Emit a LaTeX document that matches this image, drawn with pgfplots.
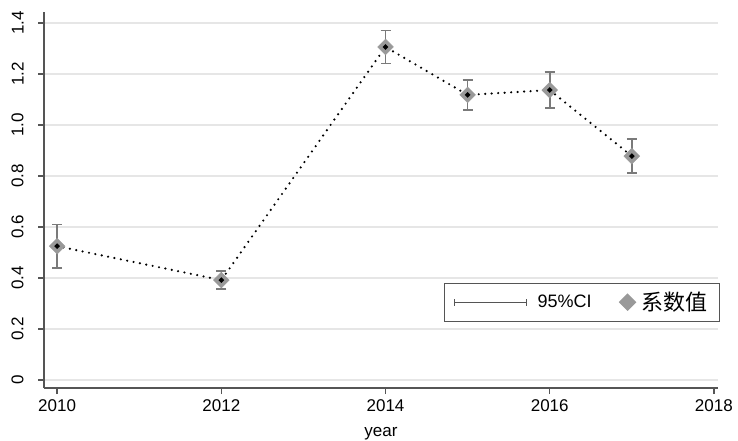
\documentclass[border=0pt]{standalone}
\usepackage{pgfplots}
\pgfplotsset{compat=1.18}
\usepackage{fontspec}
\setmainfont{Liberation Sans}
\newfontfamily\cjk{Noto Sans CJK SC}
\definecolor{axgray}{HTML}{555555}
\definecolor{dgray}{HTML}{999999}
\definecolor{ebgray}{HTML}{7A7A7A}
\definecolor{gridgray}{HTML}{E6E6E6}
\newcommand{\fs}{\fontsize{17}{20}\selectfont}
\begin{document}
\begin{tikzpicture}
\useasboundingbox (0,0) rectangle (738pt,440pt);
\begin{axis}[
  at={(44pt,52pt)}, anchor=south west,
  scale only axis, width=674pt, height=376pt,
  xmin=2009.84, xmax=2018.05,
  ymin=-0.031, ymax=1.443,
  axis x line=bottom, axis y line=left,
  axis line style={axgray, line width=1.3pt, -},
  xtick={2010,2012,2014,2016,2018},
  ytick={0,0.2,0.4,0.6,0.8,1.0,1.2,1.4},
  yticklabels={0,0.2,0.4,0.6,0.8,1.0,1.2,1.4},
  xticklabel style={/pgf/number format/1000 sep={}},
  /pgf/number format/assume math mode=true,
  tick style={axgray, line width=1.3pt},
  tick align=outside, major tick length=6pt,
  ymajorgrids, grid style={gridgray, line width=1.3pt},
  ticklabel style={font=\fs},
  yticklabel style={rotate=90, anchor=south, yshift=11pt},
  xticklabel style={yshift=-2pt},
  xlabel={year}, xlabel style={font=\fs, yshift=-9pt},
  legend style={at={(0.593,0.176)}, anchor=south west, draw=axgray, line width=1.2pt,
    font=\fontsize{18}{21}\selectfont, inner xsep=10pt, inner ysep=7pt, legend columns=2,
    /tikz/every even column/.append style={column sep=26pt}},
  legend cell align=left,
  clip=false,
]
\addplot[only marks, mark=none, ebgray, line width=1.6pt,
  legend image code/.code={
    \draw[axgray, line width=1pt] (0pt,0pt) -- (72pt,0pt);
    \draw[axgray, line width=1pt] (0pt,-3.5pt) -- (0pt,3.5pt);
    \draw[axgray, line width=1pt] (72pt,-3.5pt) -- (72pt,3.5pt);
    \path (80pt,0pt);
  },
  error bars/.cd, y dir=both, y explicit,
  error bar style={ebgray, line width=1.6pt},
  error mark options={rotate=90, mark size=5pt, ebgray, line width=1.6pt}]
 coordinates {
  (2010,0.525) +- (0,0.085)
  (2012,0.392) +- (0,0.035)
  (2014,1.306) +- (0,0.065)
  (2015,1.118) +- (0,0.059)
  (2016,1.137) +- (0,0.070)
  (2017,0.878) +- (0,0.066)
 };
\addlegendentry{95\%CI}
\addplot[only marks, mark=square*, mark size=5.6pt,
  mark options={rotate=45, fill=dgray, draw=dgray}]
 coordinates {
  (2010,0.525) (2012,0.392) (2014,1.306) (2015,1.118) (2016,1.137) (2017,0.878)
 };
\addlegendentry{\hspace{4pt}{\cjk\fontsize{22}{24}\selectfont 系数值}}
\addplot[forget plot, black, line width=2.4pt, line cap=round,
  dash pattern=on 0pt off 6.5pt,
  mark=*, mark size=1.2pt, mark options={solid, black}]
 coordinates {
  (2010,0.525) (2012,0.392) (2014,1.306) (2015,1.118) (2016,1.137) (2017,0.878)
 };
\end{axis}
\end{tikzpicture}
\end{document}
